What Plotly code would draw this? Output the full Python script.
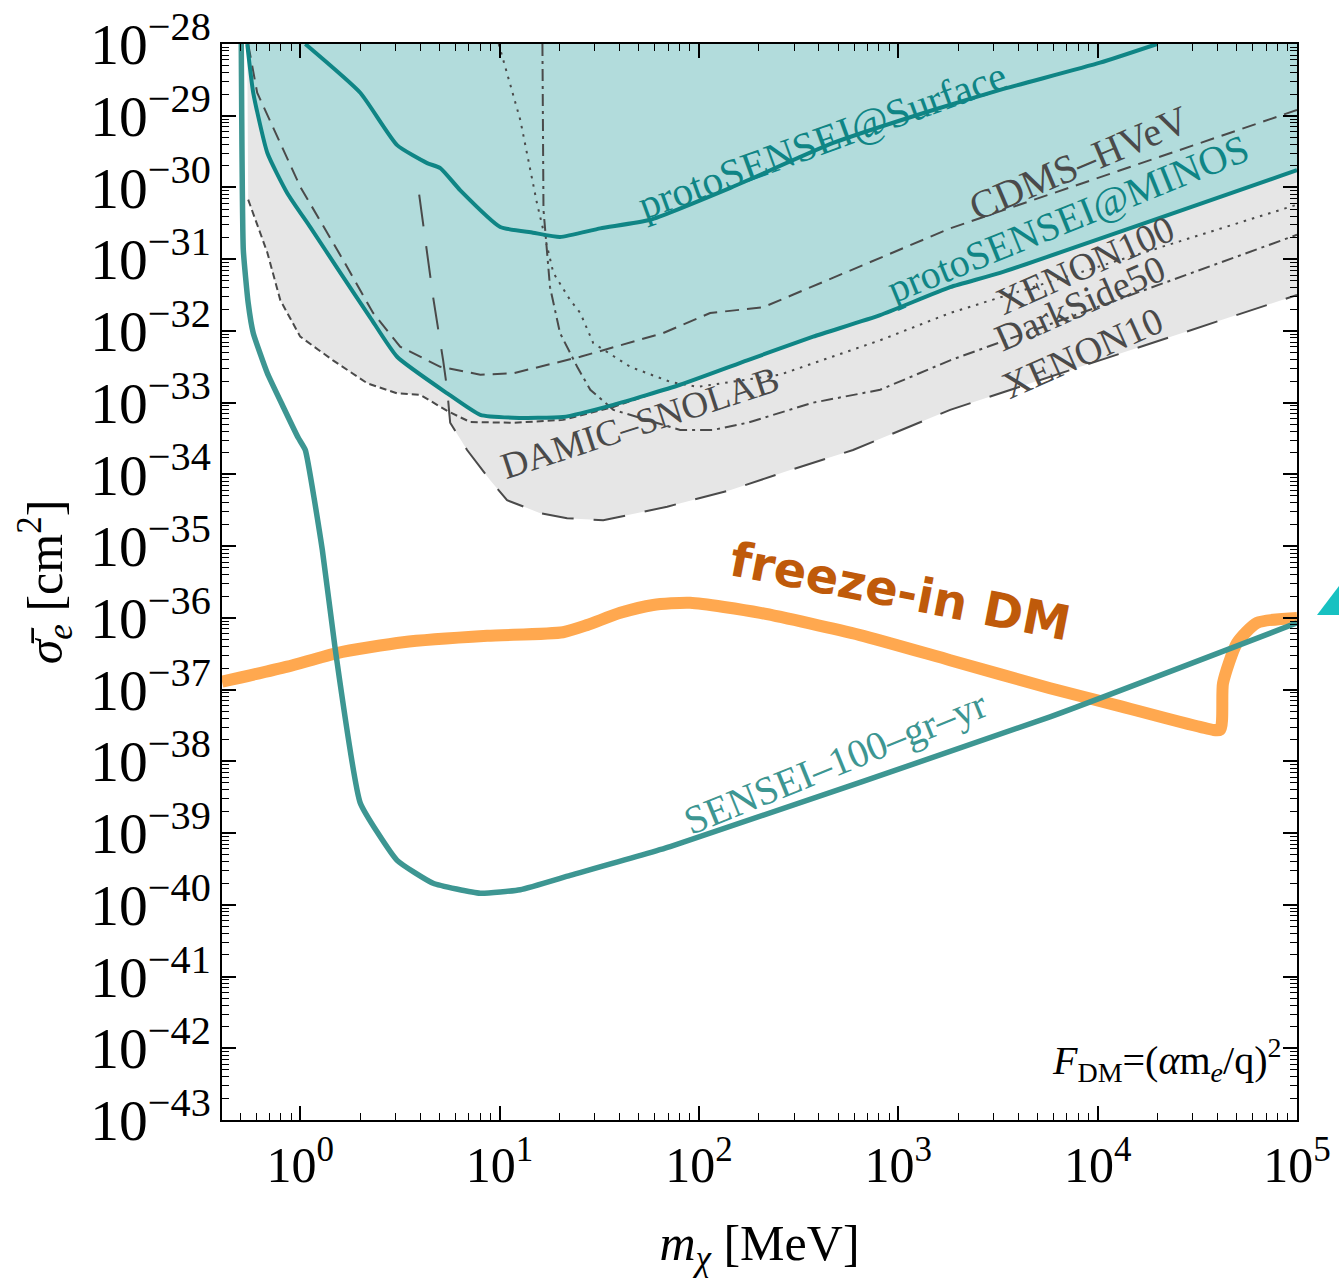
import numpy as np
import plotly.graph_objects as go

# ---- exclusion limits: dark-matter mass [MeV] vs reference cross-section [cm^2] ----
sensei100_m = [0.506, 0.518, 0.548, 0.581, 0.684, 0.822, 0.977, 1.06, 1.29, 1.5, 2.0,
               3.06, 4.64, 8.0, 12.7, 22.6, 71.7, 5770, 1e5]
sensei100_s = [1e-28, 10**-30.87, 10**-31.61, 10**-32.03, 10**-32.59, 10**-33.06, 10**-33.49,
               10**-33.66, 10**-35.05, 10**-36.45, 10**-38.58, 10**-39.38, 10**-39.70,
               10**-39.84, 10**-39.79, 10**-39.59, 10**-39.19, 10**-37.38, 10**-36.07]

surface_m = [1.06, 2.0, 3.06, 4.33, 5.04, 6.35, 10.07, 14.7, 20.1, 32, 56.9, 148, 471,
             1496, 3240, 10280, 19860]
surface_s = [1e-28, 10**-28.68, 10**-29.41, 10**-29.66, 10**-29.73, 10**-30.04, 10**-30.55,
             10**-30.63, 10**-30.69, 10**-30.57, 10**-30.45, 10**-29.99, 10**-29.38,
             10**-28.92, 10**-28.64, 10**-28.26, 1e-28]

minos_m = [0.542, 0.581, 0.684, 0.861, 1.12, 1.59, 2.24, 3.06, 5.46, 8.0, 11.7, 20.8, 37.2,
           80.5, 174.6, 374, 811, 1820, 3240, 1e5]
minos_s = [1e-28, 10**-28.68, 10**-29.52, 10**-30.08, 10**-30.55, 10**-31.19, 10**-31.81,
           10**-32.36, 10**-32.87, 10**-33.17, 10**-33.21, 10**-33.20, 10**-33.03,
           10**-32.75, 10**-32.41, 10**-32.08, 10**-31.78, 10**-31.39, 10**-31.19,
           10**-29.76]

cdms_m = [0.548, 0.608, 1.0, 1.64, 2.32, 3.17, 5.04, 8.0, 11.7, 25.4, 66.1, 113.8, 210,
          1820, 1e5]
cdms_s = [1e-28, 10**-28.68, 10**-29.99, 10**-31.01, 10**-31.75, 10**-32.22, 10**-32.50,
          10**-32.61, 10**-32.59, 10**-32.36, 10**-32.03, 10**-31.75, 10**-31.67,
          10**-30.57, 10**-28.92]

xenon100_m = [9.9, 12.7, 15.4, 18.6, 22.6, 25.4, 29.5, 45.2, 71.7, 98, 255, 811, 1820, 1e5]
xenon100_s = [1e-28, 10**-29.06, 10**-30.22, 10**-31.19, 10**-31.57, 10**-31.75, 10**-32.17,
              10**-32.50, 10**-32.71, 10**-32.78, 10**-32.61, 10**-32.13, 10**-31.75,
              10**-30.24]

darkside_m = [16.4, 16.6, 17.9, 19.4, 20.1, 24.5, 28.5, 37.2, 80.5, 118, 175, 374, 811,
              1820, 1e5]
darkside_s = [1e-28, 10**-30.31, 10**-31.39, 10**-31.85, 10**-32.03, 10**-32.50, 10**-32.82,
              10**-33.10, 10**-33.38, 10**-33.38, 10**-33.28, 10**-33.00, 10**-32.82,
              10**-32.41, 10**-30.66]

xenon10_m = [3.95, 4.64, 5.21, 5.46, 5.65, 6.87, 8.97, 10.9, 16.0, 21.8, 33.1, 69.3, 143,
             287, 593, 1820, 1e5]
xenon10_s = [10**-30.10, 10**-31.53, 10**-32.41, 10**-32.82, 10**-33.28, 10**-33.66,
             10**-34.08, 10**-34.36, 10**-34.54, 10**-34.61, 10**-34.64, 10**-34.45,
             10**-34.22, 10**-33.94, 10**-33.66, 10**-33.10, 10**-31.50]

damic_m = [0.542, 0.548, 0.684, 0.794, 1.0, 1.46, 2.17, 3.06, 4.0, 5.5, 7.12, 11.7, 20.8,
           37.2, 55.0]
damic_s = [1e-28, 10**-30.17, 10**-30.91, 10**-31.57, 10**-32.08, 10**-32.41, 10**-32.73,
           10**-32.87, 10**-32.89, 10**-33.12, 10**-33.27, 10**-33.28, 10**-33.24,
           10**-33.06, 10**-32.90]

freezein_m = [0.405, 0.861, 1.53, 3.28, 8.67, 20.8, 27.5, 40.3, 58.9, 90.3, 203, 643,
              1820, 5770, 12500, 32650, 41100, 42550, 50000, 63000, 1e5]
freezein_s = [10**-36.89, 10**-36.68, 10**-36.49, 10**-36.34, 10**-36.25,
              10**-36.20, 10**-36.10, 10**-35.93, 10**-35.82, 10**-35.79, 10**-35.93,
              10**-36.24, 10**-36.59, 10**-36.98, 10**-37.22, 10**-37.52, 10**-37.56,
              10**-36.91, 10**-36.35, 10**-36.07, 10**-36.00]

x_tick_vals = [1, 10, 100, 1e3, 1e4, 1e5]
x_tick_text = ["10<sup>0</sup>", "10<sup>1</sup>", "10<sup>2</sup>", "10<sup>3</sup>",
               "10<sup>4</sup>", "10<sup>5</sup>"]

TEAL_DARK = "#0f8585"
TEAL_MID = "#3d9692"
TEAL_FILL = "#b2dcdc"
GREY_FILL = "#e6e6e6"
LINE_GREY = "#4a4a4a"
SERIF = "Liberation Serif"

fig = go.Figure()

# grey band: everything above the combined DAMIC / XENON10 envelope
grey_m = [m for m in damic_m if m < 5.6] + [m for m in xenon10_m if m >= 5.6]
grey_s = [s for m, s in zip(damic_m, damic_s) if m < 5.6] + \
         [s for m, s in zip(xenon10_m, xenon10_s) if m >= 5.6]
grey_m += [1e5, damic_m[0]]
grey_s += [1e-28, 1e-28]
fig.add_trace(go.Scatter(x=grey_m, y=grey_s, mode="lines", fill="toself",
                         fillcolor=GREY_FILL, line=dict(width=0), hoverinfo="skip"))

# teal band: region excluded by protoSENSEI
teal_m = minos_m + [1e5, minos_m[0]]
teal_s = minos_s + [1e-28, 1e-28]
fig.add_trace(go.Scatter(x=teal_m, y=teal_s, mode="lines", fill="toself",
                         fillcolor=TEAL_FILL, line=dict(width=0), hoverinfo="skip"))

# other experiments
dashed = [
    (cdms_m, cdms_s, "14px,8px"),
    (damic_m[1:], damic_s[1:], "7px,4px"),
    (xenon100_m, xenon100_s, "2.5px,6px"),
    (darkside_m, darkside_s, "12px,5px,3px,5px"),
    (xenon10_m, xenon10_s, "32px,20px"),
]
for xm, ys, dash in dashed:
    fig.add_trace(go.Scatter(x=xm, y=ys, mode="lines",
                             line=dict(color=LINE_GREY, width=2, dash=dash),
                             hoverinfo="skip"))

# protoSENSEI limits
fig.add_trace(go.Scatter(x=surface_m, y=surface_s, mode="lines",
                         line=dict(color=TEAL_DARK, width=4, shape="spline", smoothing=0.5)))
fig.add_trace(go.Scatter(x=minos_m, y=minos_s, mode="lines",
                         line=dict(color=TEAL_DARK, width=4, shape="spline", smoothing=0.5)))

# freeze-in target
fig.add_trace(go.Scatter(x=freezein_m, y=freezein_s, mode="lines",
                         line=dict(color="#ffa84f", width=12, shape="spline", smoothing=0.6)))

# SENSEI-100 projection
fig.add_trace(go.Scatter(x=sensei100_m, y=sensei100_s, mode="lines",
                         line=dict(color=TEAL_MID, width=5.5, shape="spline", smoothing=0.4)))

labels = [
    ("protoSENSEI@Surface", 2.618, -29.34, -20, TEAL_DARK, 41),
    ("CDMS–HVeV", 3.902, -29.66, -23, LINE_GREY, 40),
    ("protoSENSEI@MINOS", 3.852, -30.43, -22, TEAL_DARK, 40),
    ("XENON100", 3.937, -31.08, -24, LINE_GREY, 38),
    ("DarkSide50", 3.912, -31.61, -24, LINE_GREY, 38),
    ("XENON10", 3.922, -32.31, -24, LINE_GREY, 38),
    ("DAMIC–SNOLAB", 1.705, -33.28, -18, LINE_GREY, 37),
    ("SENSEI–100–gr–yr", 2.683, -38.01, -22, TEAL_MID, 40),
]
for text, lx, ly, ang, col, size in labels:
    fig.add_annotation(x=lx, y=ly, text=text, textangle=ang, showarrow=False,
                       font=dict(family=SERIF, size=size, color=col))

fig.add_annotation(x=3.009, y=-35.62, text="<b>freeze-in DM</b>", textangle=11,
                   showarrow=False,
                   font=dict(family="DejaVu Sans", size=48, color="#bf5a0a"))

fig.add_annotation(x=4.93, y=-42.16, xanchor="right",
                   text="<i>F</i><sub>DM</sub>=(<i>α</i>m<sub><i>e</i></sub>/q)<sup>2</sup>",
                   showarrow=False, font=dict(family=SERIF, size=40, color="black"))

# partial marker at the right edge of the page
L, R, T, B = 222, 1297, 44, 1120
W, H = R - L, B - T
def px(xp): return (xp - L) / W
def py(yp): return (B - yp) / H
fig.add_shape(type="path", xref="paper", yref="paper",
              path=f"M {px(1317)} {py(615)} L {px(1345)} {py(615)} L {px(1345)} {py(578)} Z",
              fillcolor="#17c1c1", line=dict(width=0))

axis_common = dict(
    type="log", showgrid=False, zeroline=False, showline=True, linecolor="black",
    linewidth=2, mirror="allticks", ticks="inside", ticklen=14, tickwidth=1.6,
    tickcolor="black", automargin=False,
    minor=dict(ticks="inside", ticklen=7, tickwidth=1.2, tickcolor="black",
               showgrid=False, dtick="D1"),
)

fig.update_layout(
    width=1339, height=1278,
    margin=dict(l=L, r=1339 - R, t=T, b=1278 - B),
    paper_bgcolor="white", plot_bgcolor="white",
    showlegend=False,
    xaxis=dict(axis_common, range=[np.log10(0.405), 5],
               tickmode="array", tickvals=x_tick_vals, ticktext=x_tick_text,
               tickfont=dict(family=SERIF, size=50, color="black"),
               title=dict(text="<i>m</i><sub><i>χ</i></sub> [MeV]",
                          font=dict(family=SERIF, size=50, color="black"), standoff=34)),
    yaxis=dict(axis_common, range=[-43, -28],
               tickmode="linear", tick0=0, dtick=1, exponentformat="power",
               showexponent="all",
               tickfont=dict(family=SERIF, size=46, color="black"),
               title=dict(text="<i>σ̄</i><sub><i>e</i></sub> [cm<sup>2</sup>]",
                          font=dict(family=SERIF, size=50, color="black"), standoff=12)),
)

fig.write_html("out.html")
